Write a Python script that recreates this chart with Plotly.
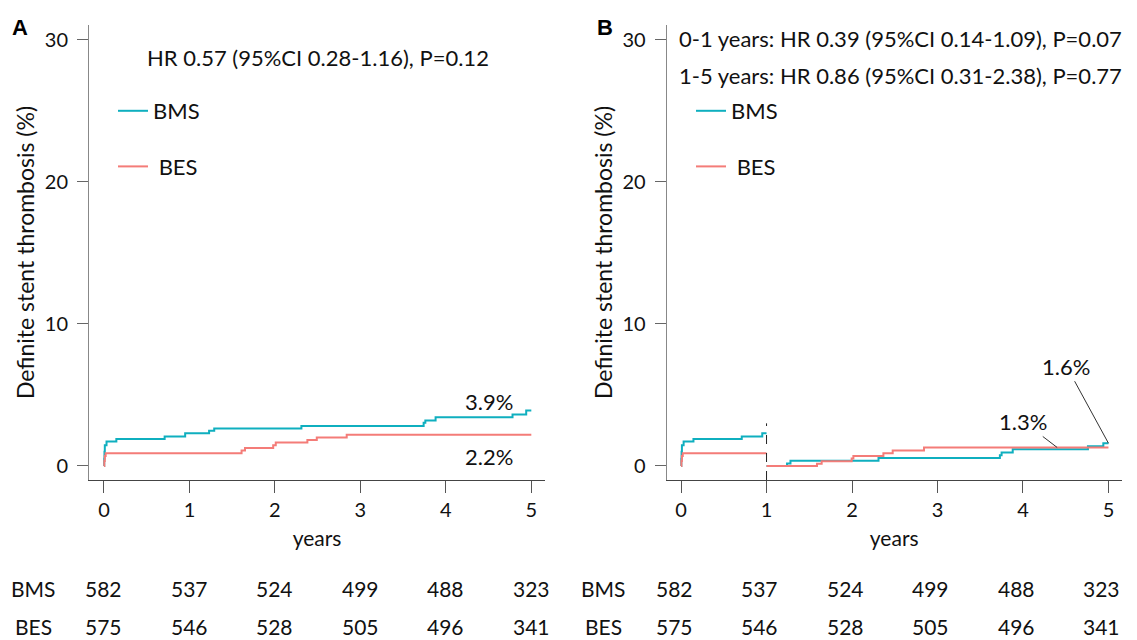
import plotly.graph_objects as go

# ---------------- data ----------------
years_ticks = [0, 1, 2, 3, 4, 5]
y_ticks = [0, 10, 20, 30]

# Panel A: cumulative definite stent thrombosis (%), 0-5 years
a_bms_t = [0, 0.003, 0.006, 0.01, 0.03, 0.145, 0.71, 0.95, 1.23, 1.29, 2.31, 3.74, 3.76, 3.88, 4.78, 4.94, 5.0]
a_bms_v = [0, 0.5, 1.0, 1.45, 1.72, 1.9, 2.07, 2.3, 2.47, 2.64, 2.82, 3.05, 3.2, 3.42, 3.62, 3.9, 3.9]
a_bes_t = [0, 0.004, 0.01, 0.02, 1.61, 1.65, 1.98, 2.01, 2.38, 2.49, 2.84, 5.0]
a_bes_v = [0, 0.35, 0.7, 0.89, 1.08, 1.26, 1.46, 1.65, 1.82, 2.01, 2.2, 2.2]

# Panel B: landmark analysis, 0-1 years
b1_bms_t = [0, 0.003, 0.006, 0.01, 0.03, 0.145, 0.71, 0.95, 1.0]
b1_bms_v = [0, 0.5, 1.0, 1.45, 1.72, 1.9, 2.07, 2.3, 2.3]
b1_bes_t = [0, 0.004, 0.01, 0.02, 1.0]
b1_bes_v = [0, 0.35, 0.7, 0.89, 0.89]
# Panel B: landmark analysis, 1-5 years
b2_bms_t = [1.0, 1.24, 1.28, 2.31, 3.73, 3.75, 3.88, 4.76, 4.94, 5.0]
b2_bms_v = [0, 0.17, 0.37, 0.56, 0.76, 0.95, 1.17, 1.38, 1.6, 1.6]
b2_bes_t = [1.0, 1.59, 1.645, 1.996, 2.016, 2.367, 2.476, 2.842, 5.0]
b2_bes_v = [0, 0.16, 0.33, 0.52, 0.7, 0.89, 1.08, 1.3, 1.3]

risk_groups = ["BMS", "BES"]
risk_bms = [582, 537, 524, 499, 488, 323]
risk_bes = [575, 546, 528, 505, 496, 341]

hr_a = "HR 0.57 (95%CI 0.28-1.16), P=0.12"
hr_b1 = "0-1 years: HR 0.39 (95%CI 0.14-1.09), P=0.07"
hr_b2 = "1-5 years: HR 0.86 (95%CI 0.31-2.38), P=0.77"

# ---------------- style ----------------
C_BMS = "#0FAFBF"
C_BES = "#F47C78"
FONT = "Lato"
TXT = "#111111"
W, H = 1137, 640

def px_x(p):
    return p / W

def px_y(p):
    return 1 - p / H

fig = go.Figure()

def step(x, y, color, name, xa, ya, legend, show):
    fig.add_trace(go.Scatter(
        x=x, y=y, mode="lines", line=dict(color=color, width=2, shape="hv"),
        name=name, legendgroup=legend + name, showlegend=show, legend=legend,
        xaxis=xa, yaxis=ya, hoverinfo="skip"))

step(a_bms_t, a_bms_v, C_BMS, "BMS", "x", "y", "legend", True)
step(a_bes_t, a_bes_v, C_BES, "\u00a0BES", "x", "y", "legend", True)
step(b1_bms_t, b1_bms_v, C_BMS, "BMS", "x2", "y2", "legend2", True)
step(b2_bms_t, b2_bms_v, C_BMS, "BMS", "x2", "y2", "legend2", False)
step(b1_bes_t, b1_bes_v, C_BES, "\u00a0BES", "x2", "y2", "legend2", True)
step(b2_bes_t, b2_bes_v, C_BES, "\u00a0BES", "x2", "y2", "legend2", False)

xcommon = dict(tickvals=years_ticks, ticks="outside", ticklen=12, tickwidth=1,
               tickcolor="#555555", showline=True, linecolor="#444444", linewidth=1,
               showgrid=False, zeroline=False,
               tickfont=dict(family=FONT, size=20, color=TXT),
               title=dict(text="years", font=dict(family=FONT, size=21, color=TXT), standoff=11))
ycommon = dict(tickvals=y_ticks, ticks="outside", ticklen=11, tickwidth=1,
               tickcolor="#666666", showline=True, linecolor="#888888", linewidth=1,
               showgrid=False, zeroline=False, range=[-0.99, 31.05], ticklabelstandoff=5,
               tickfont=dict(family=FONT, size=20, color=TXT),
               title=dict(text="Definite stent thrombosis (%)",
                          font=dict(family=FONT, size=23, color=TXT), standoff=3))

LEG = dict(xanchor="left", yanchor="top", bgcolor="rgba(0,0,0,0)",
           font=dict(family=FONT, size=22, color=TXT), traceorder="grouped", tracegroupgap=24)

fig.update_layout(
    width=W, height=H, margin=dict(l=0, r=0, t=0, b=0),
    paper_bgcolor="white", plot_bgcolor="white",
    xaxis=dict(domain=[px_x(89), px_x(545)], range=[-0.175, 5.16], anchor="y", **xcommon),
    yaxis=dict(domain=[px_y(480), px_y(25)], anchor="x", **ycommon),
    xaxis2=dict(domain=[px_x(666.7), px_x(1121.7)], range=[-0.168, 5.155], anchor="y2", **xcommon),
    yaxis2=dict(domain=[px_y(480), px_y(25)], anchor="x2", **ycommon),
    legend=dict(x=px_x(113), y=px_y(90), **LEG),
    legend2=dict(x=px_x(691), y=px_y(90), **LEG),
    font=dict(family=FONT, color=TXT),
)

# dashed landmark line at 1 year
fig.add_shape(type="line", xref="x2", yref="y2", x0=1, x1=1, y0=-0.99, y1=3.0,
              line=dict(color="#222222", width=1, dash="dash"))

def txt(text, x, y, size=22, xanchor="center", xref="paper", yref="paper", **kw):
    return dict(text=text, x=x, y=y, xref=xref, yref=yref, xanchor=xanchor, yanchor="middle",
                showarrow=False, font=dict(family=FONT, size=size, color=TXT), **kw)

ann = []
# panel letters
ann.append(dict(text="<b>A</b>", x=px_x(20), y=px_y(27), xref="paper", yref="paper",
                xanchor="center", yanchor="middle", showarrow=False,
                font=dict(family="Liberation Sans", size=22, color="black")))
ann.append(dict(text="<b>B</b>", x=px_x(605), y=px_y(27), xref="paper", yref="paper",
                xanchor="center", yanchor="middle", showarrow=False,
                font=dict(family="Liberation Sans", size=22, color="black")))
# HR texts
ann.append(txt(hr_a, px_x(318), px_y(57), size=22))
ann.append(txt(hr_b1, px_x(677), px_y(39), size=22, xanchor="left"))
ann.append(txt(hr_b2, px_x(677), px_y(75), size=22, xanchor="left"))
# end-point labels
ann.append(txt(f"{a_bms_v[-1]:.1f}%", 4.5, 4.55, xref="x", yref="y"))
ann.append(txt(f"{a_bes_v[-1]:.1f}%", 4.5, 0.7, xref="x", yref="y"))
ann.append(dict(text=f"{b2_bms_v[-1]:.1f}%", x=b2_bms_t[-1], y=b2_bms_v[-1], xref="x2", yref="y2",
                showarrow=True, arrowhead=0, arrowwidth=1, arrowcolor="#333333", ax=-42, ay=-77,
                font=dict(family=FONT, size=22, color=TXT)))
ann.append(dict(text=f"{b2_bes_v[-1]:.1f}%", x=4.4, y=b2_bes_v[-1], xref="x2", yref="y2",
                showarrow=True, arrowhead=0, arrowwidth=1, arrowcolor="#333333", ax=-34, ay=-26,
                font=dict(family=FONT, size=22, color=TXT)))
# numbers at risk table
rows = [(risk_groups[0], risk_bms, px_y(588)), (risk_groups[1], risk_bes, px_y(626))]
for xa, lab_px, shift in (("x", 33, 0.0), ("x2", 603, -0.08)):
    for grp, vals, yy in rows:
        ann.append(txt(grp, px_x(lab_px), yy, size=21))
        for t, v in zip(years_ticks, vals):
            ann.append(txt(str(v), t + shift, yy, size=21, xref=xa))
fig.update_layout(annotations=ann)

fig.write_html("out.html", config={"displayModeBar": False},
               post_script="document.body.style.margin='0';document.body.style.padding='0';")
